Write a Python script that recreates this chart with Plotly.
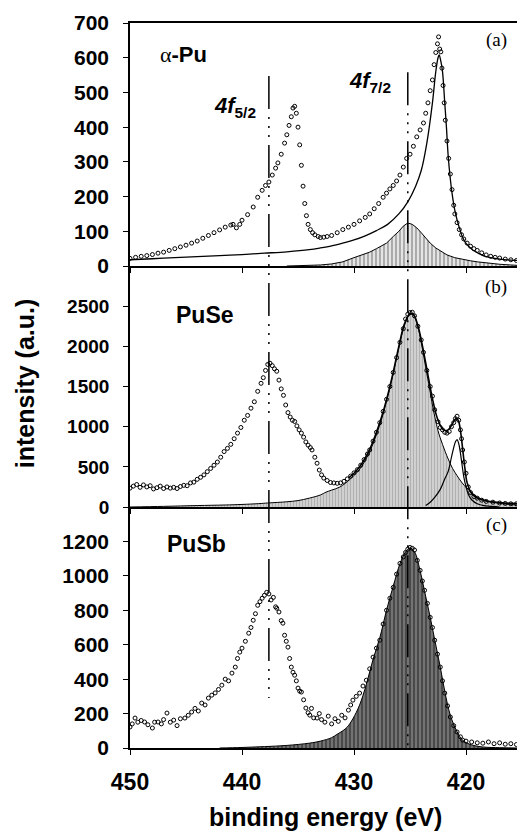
import plotly.graph_objects as go

# ---------------- Panel (a) alpha-Pu ----------------
a_E = [450.0, 449.5, 449.0, 448.5, 448.0, 447.5, 447.0, 446.5, 446.0, 445.5, 445.0, 444.5, 444.0, 443.5,
       443.0, 442.5, 442.0, 441.5, 441.0, 440.8, 440.5, 440.2, 440.0, 439.5, 439.0, 438.6, 438.2, 437.9,
       437.6, 437.3, 437.0, 436.8, 436.5, 436.2, 436.0, 435.8, 435.6, 435.45, 435.3, 435.15, 435.0, 434.85,
       434.7, 434.55, 434.4, 434.25, 434.1, 433.9, 433.7, 433.5, 433.2, 433.0, 432.7, 432.4, 432.0, 431.5,
       431.0, 430.5, 430.0, 429.5, 429.0, 428.6, 428.2, 427.8, 427.4, 427.1, 426.8, 426.5, 426.2, 425.9,
       425.6, 425.3, 425.0, 424.7, 424.4, 424.1, 423.8, 423.6, 423.4, 423.2, 423.0, 422.85, 422.7, 422.55,
       422.45, 422.35, 422.25, 422.15, 422.05, 421.95, 421.85, 421.7, 421.55, 421.4, 421.25, 421.1, 421.0,
       420.8, 420.6, 420.4, 420.2, 419.9, 419.6, 419.3, 419.0, 418.6, 418.2, 417.8, 417.4, 417.0, 416.5,
       416.0, 415.5]
a_I = [22, 25, 28, 30, 33, 37, 40, 45, 50, 55, 60, 66, 72, 80,
       88, 96, 104, 112, 118, 120, 110, 120, 132, 148, 170, 198, 218, 232,
       242, 262, 282, 297, 322, 354, 378, 405, 430, 455, 460, 440, 400, 349,
       290, 230, 180, 145, 120, 105, 96, 90, 85, 82, 83, 85, 88, 96,
       105, 112, 120, 130, 140, 150, 165, 180, 198, 210, 222, 232, 245, 262,
       285, 310, 322, 345, 372, 392, 412, 440, 470, 505, 536, 580, 615, 640,
       660, 625, 617, 570, 520, 470, 420, 360, 310, 265, 220, 175, 150,
       125, 105, 90, 78, 66, 57, 50, 45, 38, 32, 28, 25, 23, 20,
       18, 16]

a_fit_E = [450, 448, 446, 444, 442, 440, 438, 436, 434, 433, 432, 431, 430, 429, 428, 427, 426, 425.2,
           424.5, 424.0, 423.5, 423.0, 422.7, 422.5, 422.4, 422.25, 422.1, 421.9, 421.75, 421.6, 421.4,
           421.25, 421.0, 420.8, 420.5, 420.3, 420.0, 419.4, 418.8, 418.1, 417.0, 416.0, 415.45]
a_fit_I = [18, 21, 24, 27, 30, 33, 37, 41, 47, 52, 58, 66, 75, 87, 102, 120, 150, 185,
           230, 275, 354, 470, 560, 600, 608, 590, 560, 470, 400, 320, 250,
           210, 160, 133, 100, 82, 65, 46, 35, 26, 20, 17, 16]

a_comp_E = [436, 434, 433, 432, 431, 430.1, 429.5, 428.6, 428.0, 427.1, 426.5, 426.0, 425.6, 425.2, 424.8,
            424.4, 424.0, 423.6, 423.2, 422.7, 422.2, 421.7, 421.0, 420.3, 419.6, 419.0, 418.0, 417.0,
            416.0, 415.45]
a_comp_I = [0, 1, 3, 6, 12, 23, 30, 40, 50, 66, 85, 100, 115, 124, 120,
            110, 96, 80, 66, 52, 42, 32, 24, 19, 15, 12, 8, 5,
            3, 2]

# ---------------- Panel (b) PuSe ----------------
b_E = [450.0, 449.7, 449.4, 449.1, 448.8, 448.5, 448.2, 447.9, 447.6, 447.3, 447.0, 446.7, 446.4, 446.1,
       445.8, 445.5, 445.2, 444.9, 444.6, 444.3, 444.0, 443.7, 443.4, 443.1, 442.8, 442.5, 442.2, 441.9,
       441.6, 441.3, 441.0, 440.7, 440.4, 440.1, 439.8, 439.5, 439.2, 438.9, 438.6, 438.3, 438.1, 437.9,
       437.7, 437.5, 437.3, 437.1, 436.9, 436.7, 436.5, 436.3, 436.1, 435.9, 435.7, 435.5, 435.3, 435.1,
       434.9, 434.7, 434.5, 434.3, 434.1, 433.9, 433.75, 433.5, 433.3, 433.1, 432.9, 432.7, 432.4, 432.1,
       431.8, 431.5, 431.2, 430.9, 430.6, 430.3, 430.0, 429.7, 429.4, 429.1, 428.8, 428.6, 428.3, 428.0,
       427.7, 427.4, 427.1, 426.8, 426.5, 426.2, 425.9, 425.6, 425.4, 425.2, 425.0, 424.8, 424.6, 424.3,
       424.0, 423.8, 423.5, 423.2, 423.0, 422.8, 422.5, 422.3, 422.1, 421.9, 421.7, 421.5, 421.3, 421.1,
       420.95, 420.8, 420.65, 420.5, 420.4, 420.3, 420.15, 420.0, 419.8, 419.6, 419.3, 419.0, 418.6,
       418.2, 417.6, 417.0, 416.5, 416.0, 415.5]
b_I = [235, 260, 280, 245, 275, 250, 265, 225, 240, 260, 230, 250, 235, 245,
       230, 255, 270, 265, 300, 310, 345, 370, 400, 440, 480, 520, 560, 620,
       690, 730, 780, 850, 920, 990, 1080, 1140, 1230, 1310, 1440, 1540, 1610, 1700,
       1775, 1790, 1760, 1720, 1690, 1580, 1470, 1390, 1270, 1175, 1120, 1080, 1065, 1010,
       960, 920, 870, 810, 770, 740, 710, 620, 545, 460, 400, 360, 330, 305,
       300, 295, 300, 320, 350, 385, 425, 465, 520, 590, 660, 710, 820, 930,
       1050, 1190, 1340, 1500, 1675, 1860, 2050, 2220, 2340, 2400, 2420, 2425, 2380, 2250,
       2080, 1925, 1700, 1500, 1380, 1210, 1060, 990, 960, 930, 920, 940, 1000, 1050,
       1100, 1130, 1080, 960, 850, 710, 560, 420, 250, 180, 130, 110, 85,
       70, 60, 50, 45, 40, 40]

b_fit_E = [430.5, 430.0, 429.5, 429.0, 428.5, 428.0, 427.5, 427.0, 426.5, 426.0, 425.5, 425.0, 424.7,
           424.3, 424.0, 423.5, 423.0, 422.5, 422.0, 421.6, 421.2, 420.9, 420.7, 420.5, 420.3, 420.1,
           419.9, 419.6, 419.2, 418.6, 418.0, 417.0, 416.0, 415.45]
b_fit_I = [360, 420, 500, 610, 750, 930, 1140, 1390, 1680, 2000, 2280, 2410, 2400,
           2260, 2080, 1720, 1350, 1080, 960, 960, 1040, 1100, 1080, 950, 720, 480,
           300, 190, 130, 90, 70, 55, 45, 42]

b_comp_E = [450, 447, 444, 441.5, 440, 438.5, 437.7, 436, 435, 434, 433, 432.5, 432, 431.25, 430.4,
            429.5, 429.0, 428.5, 428.0, 427.5, 427.0, 426.5, 426.0, 425.5, 425.0, 424.7, 424.3, 424.0,
            423.5, 423.2, 423.0, 422.5, 422.1, 421.6, 421.2, 420.8, 420.4, 419.9, 419.5, 419.0, 418.5,
            418.0, 417.6, 417.0, 416.0, 415.45]
b_comp_I = [0, 8, 18, 25, 32, 42, 50, 65, 80, 110, 150, 185, 210, 250, 340,
            470, 580, 720, 900, 1110, 1370, 1660, 1980, 2260, 2400, 2390, 2240, 2050,
            1660, 1430, 1270, 950, 780, 600, 480, 390, 310, 230, 180, 125, 90,
            70, 60, 45, 30, 25]

b_small_E = [423.6, 423.2, 422.8, 422.3, 421.9, 421.6, 421.3, 421.1, 420.95, 420.8, 420.65, 420.5, 420.35,
             420.2, 420.0, 419.8, 419.5, 419.0, 418.5, 418.0, 417.0]
b_small_I = [20, 60, 120, 220, 350, 440, 620, 740, 810, 840, 790, 670, 520,
             375, 250, 160, 90, 40, 20, 10, 0]

# ---------------- Panel (c) PuSb ----------------
c_E = [450.0, 449.8, 449.55, 449.3, 449.0, 448.7, 448.4, 448.0, 447.8, 447.5, 447.2, 447.0, 446.7, 446.4,
       446.1, 445.8, 445.5, 445.1, 444.8, 444.5, 444.2, 443.9, 443.6, 443.3, 443.0, 442.7, 442.4, 442.1,
       441.8, 441.5, 441.2, 440.9, 440.6, 440.4, 440.2, 440.0, 439.7, 439.4, 439.2, 439.0, 438.8, 438.6,
       438.4, 438.2, 438.0, 437.8, 437.6, 437.4, 437.2, 437.0, 436.9, 436.7, 436.5, 436.35, 436.2, 436.05,
       435.9, 435.75, 435.6, 435.45, 435.3, 435.15, 435.0, 434.85, 434.7, 434.5, 434.3, 434.1, 433.95,
       433.8, 433.6, 433.3, 433.1, 432.9, 432.6, 432.3, 432.0, 431.7, 431.4, 431.1, 430.8, 430.5, 430.3,
       430.1, 429.8, 429.5, 429.2, 428.9, 428.6, 428.3, 428.0, 427.7, 427.4, 427.1, 426.8, 426.5, 426.2,
       425.9, 425.6, 425.4, 425.2, 425.0, 424.8, 424.6, 424.35, 424.1, 423.9, 423.7, 423.45, 423.2, 423.0,
       422.8, 422.55, 422.3, 422.1, 421.9, 421.65, 421.4, 421.1, 420.8, 420.5, 420.3, 420.0, 419.5, 419.0,
       418.5, 418.0, 417.5, 417.0, 416.5, 416.0, 415.5]
c_I = [122, 140, 174, 150, 160, 151, 135, 116, 150, 151, 140, 165, 203, 150,
       162, 130, 170, 174, 190, 209, 230, 215, 261, 250, 290, 307, 320, 340,
       365, 400, 390, 435, 470, 520, 557, 580, 620, 667, 700, 742, 780, 829,
       850, 870, 887, 904, 895, 860, 875, 820, 812, 790, 740, 725, 655, 620,
       586, 520, 470, 440, 423, 390, 348, 330, 325, 280, 232, 205, 191,
       230, 175, 174, 200, 165, 150, 185, 140, 170, 155, 190, 175, 220, 250,
       278, 300, 319, 360, 394, 460, 528, 580, 626, 720, 800, 870, 933, 1010,
       1072, 1110, 1136, 1155, 1165, 1160, 1150, 1090, 1032, 970, 916, 840, 759, 700,
       626, 545, 470, 390, 319, 245, 180, 130, 93, 65, 46, 40, 35, 30,
       28, 35, 25, 30, 22, 25, 20]

c_comp_E = [442, 440, 438, 436, 434, 433, 432, 431.5, 431.0, 430.6, 430.1, 429.5, 428.9, 428.3, 427.7,
            427.1, 426.5, 425.9, 425.4, 425.0, 424.6, 424.1, 423.7, 423.2, 422.8, 422.3, 421.9, 421.4,
            420.8, 420.3, 419.5, 418.5, 417.0, 415.45]
c_comp_I = [0, 3, 8, 15, 28, 40, 60, 80, 100, 122, 170, 250, 370, 515, 640,
            800, 940, 1070, 1140, 1160, 1140, 1030, 910, 760, 630, 470, 330, 190,
            95, 45, 18, 6, 2, 0]

# ---------------- Axes / labels ----------------
x_ticks = [450, 440, 430, 420]
a_ticks = [0, 100, 200, 300, 400, 500, 600, 700]
b_ticks = [0, 500, 1000, 1500, 2000, 2500]
c_ticks = [0, 200, 400, 600, 800, 1000, 1200]
peak_5_2 = 437.6
peak_7_2 = 425.2

fig = go.Figure()

FILLS = {
    "a": dict(shape="|", bgcolor="#e4e4e4", fgcolor="#222222", size=4, solidity=0.3),
    "b": dict(shape="|", bgcolor="#d6d6d6", fgcolor="#8a8a8a", size=3, solidity=0.45),
    "c": dict(shape="|", bgcolor="#4a4a4a", fgcolor="#f0f0f0", size=4, solidity=0.25),
}
MK = dict(symbol="circle-open", size=4, color="black", line=dict(width=1, color="black"))

# panel a
fig.add_trace(go.Scatter(x=a_comp_E, y=a_comp_I, mode="lines", fill="tozeroy", fillpattern=FILLS["a"],
                         line=dict(color="black", width=1), xaxis="x", yaxis="y"))
fig.add_trace(go.Scatter(x=a_fit_E, y=a_fit_I, mode="lines", line=dict(color="black", width=1.3, shape="spline"),
                         xaxis="x", yaxis="y"))
fig.add_trace(go.Scatter(x=a_E, y=a_I, mode="markers", marker=MK, xaxis="x", yaxis="y"))

# panel b
fig.add_trace(go.Scatter(x=b_comp_E, y=b_comp_I, mode="lines", fill="tozeroy", fillpattern=FILLS["b"],
                         line=dict(color="black", width=1, shape="spline"), xaxis="x2", yaxis="y2"))
fig.add_trace(go.Scatter(x=b_small_E, y=b_small_I, mode="lines", line=dict(color="black", width=1.2, shape="spline"),
                         xaxis="x2", yaxis="y2"))
fig.add_trace(go.Scatter(x=b_fit_E, y=b_fit_I, mode="lines", line=dict(color="black", width=1.6, shape="spline"),
                         xaxis="x2", yaxis="y2"))
fig.add_trace(go.Scatter(x=b_E, y=b_I, mode="markers", marker=MK, xaxis="x2", yaxis="y2"))

# panel c
fig.add_trace(go.Scatter(x=c_comp_E, y=c_comp_I, mode="lines", fill="tozeroy", fillpattern=FILLS["c"],
                         line=dict(color="black", width=1, shape="spline"), xaxis="x3", yaxis="y3"))
fig.add_trace(go.Scatter(x=c_E, y=c_I, mode="markers", marker=MK, xaxis="x3", yaxis="y3"))

TICKFONT = dict(family="Liberation Sans, Arial, sans-serif", size=21, color="black", weight="bold")
TICKFONT_B = dict(family="Liberation Sans, Arial, sans-serif", size=19, color="black", weight="bold")
XRANGE = [450, 415.45]

def xax(anchor, labels, mirror=False):
    return dict(range=XRANGE, anchor=anchor, tickvals=x_ticks, ticks="outside", ticklen=5, tickwidth=1.2,
                tickcolor="black", showline=True, linecolor="black", linewidth=1.6, mirror=mirror,
                showgrid=False, zeroline=False, showticklabels=labels, ticklabelstandoff=8,
                tickfont=dict(family="Liberation Sans, Arial, sans-serif", size=23, color="black", weight="bold"))

def yax(anchor, dom, rng, tv, font):
    return dict(domain=dom, range=rng, anchor=anchor, tickvals=tv, ticks="outside", ticklen=5, tickwidth=1.2,
                tickcolor="black", showline=True, linecolor="black", linewidth=1.6, showgrid=False,
                zeroline=False, tickfont=font, ticklabelstandoff=10)

fig.update_layout(
    width=517, height=831,
    margin=dict(l=130, r=0, t=23, b=83),
    paper_bgcolor="white", plot_bgcolor="rgba(0,0,0,0)",
    showlegend=False,
    xaxis=xax("y", False, mirror=True),
    xaxis2=xax("y2", False),
    xaxis3=xax("y3", True),
    yaxis=yax("x", [0.6648, 1.0], [0, 700], a_ticks, TICKFONT),
    yaxis2=yax("x2", [0.3324, 0.6648], [0, 3000], b_ticks, TICKFONT_B),
    yaxis3=yax("x3", [0.0, 0.3324], [0, 1400], c_ticks, TICKFONT),
)

DASH = "33px,8px,2px,7px,2px,7px,2px,8px"
# drawn from top to bottom so the pattern starts with a long dash at the top
fig.add_shape(type="line", xref="x", yref="paper", x0=peak_5_2, x1=peak_5_2, y0=0.927, y1=0.069,
              line=dict(color="black", width=1.5, dash=DASH))
fig.add_shape(type="line", xref="x", yref="paper", x0=peak_7_2, x1=peak_7_2, y0=0.932, y1=0.0,
              line=dict(color="black", width=1.5, dash=DASH))

SANS = "Liberation Sans, Arial, sans-serif"
def ann(text, x, y, size, family=SANS, bold=True, angle=0):
    fig.add_annotation(text=text, x=x, y=y, xref="paper", yref="paper", showarrow=False, textangle=angle,
                       xanchor="center", yanchor="middle",
                       font=dict(family=family, size=size, color="black", weight="bold" if bold else "normal"))

ann("intensity (a.u.)", -0.271, 0.502, 25, angle=-90)
ann("binding energy (eV)", 0.504, -0.095, 25)
ann("(a)", 0.946, 0.9766, 19, family="Liberation Serif, Times New Roman, serif", bold=False)
ann("(b)", 0.946, 0.636, 19, family="Liberation Serif, Times New Roman, serif", bold=False)
ann("(c)", 0.946, 0.3076, 19, family="Liberation Serif, Times New Roman, serif", bold=False)
ann("<span style='font-family:Liberation Serif;font-weight:normal'>α</span>-Pu", 0.137, 0.956, 22)
ann("PuSe", 0.194, 0.597, 23)
ann("PuSb", 0.173, 0.281, 23)
ann("<i>4f</i><sub>5/2</sub>", 0.271, 0.884, 22)
ann("<i>4f</i><sub>7/2</sub>", 0.620, 0.9186, 22)

fig.write_html("out.html", config={"displayModeBar": False},
               post_script="document.body.style.margin='0';document.body.style.overflow='hidden';")
